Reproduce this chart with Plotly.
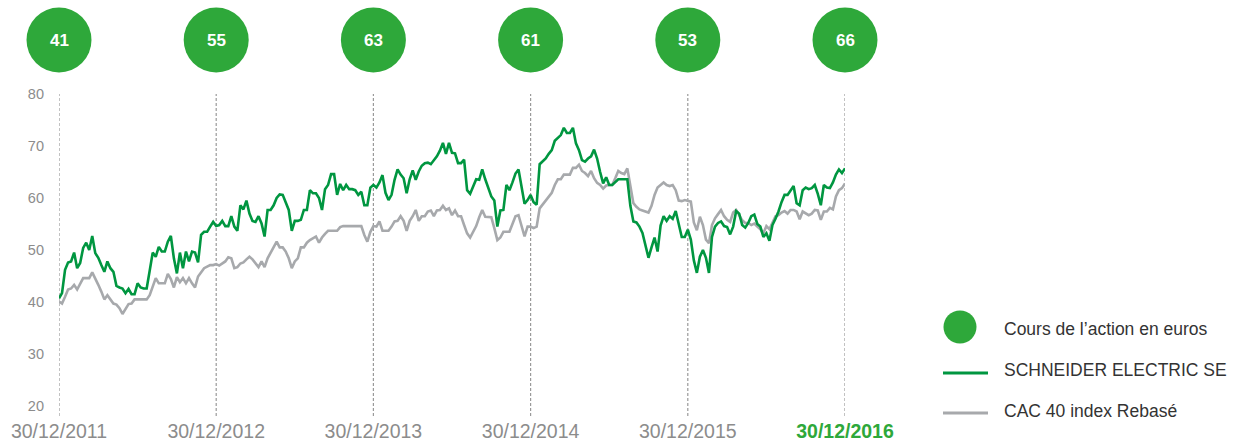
import plotly.graph_objects as go

# ---------------- data ----------------
annees = ["30/12/2011", "30/12/2012", "30/12/2013", "30/12/2014", "30/12/2015", "30/12/2016"]
cours_fin_annee = [41, 55, 63, 61, 53, 66]

# Weekly values, one list per year (first list includes the starting point)
schneider_2012 = [40.7, 41.7, 46.2, 47.6, 47.8, 49.5, 46.5, 47.5, 50.4, 51.4, 50.0, 52.7, 49.4, 48.5, 47.1, 45.8, 47.8, 46.5, 45.8, 43.1,
                  42.8, 42.6, 41.7, 42.5, 41.5, 41.5, 43.6, 42.8, 42.6, 42.6, 46.0, 49.5, 48.7, 50.6, 49.7, 49.7, 51.6, 52.7, 48.4, 45.5,
                  49.5, 46.5, 49.7, 47.8, 49.7, 49.5, 47.6, 52.9, 53.5, 53.5, 54.5, 55.4, 54.6]
schneider_2013 = [54.8, 55.6, 54.6, 54.6, 56.5, 54.5, 53.7, 58.6, 57.8, 59.5, 57.0, 55.6, 55.4, 56.5, 55.1, 52.6, 57.7, 57.7, 58.6, 60.0,
                  60.7, 60.6, 59.3, 57.7, 53.7, 55.6, 55.6, 55.8, 57.7, 57.7, 61.5, 60.9, 60.9, 60.0, 57.7, 61.7, 62.5, 64.6, 64.6, 60.6,
                  62.7, 61.5, 62.5, 61.7, 61.7, 61.5, 60.6, 61.2, 58.6, 58.6, 62.0, 62.5]
schneider_2014 = [62.0, 63.0, 64.4, 61.0, 59.6, 60.6, 63.5, 65.5, 64.5, 63.8, 60.9, 63.6, 65.3, 63.5, 65.1, 66.2, 66.7, 66.8, 66.5, 67.3,
                  68.0, 69.1, 70.6, 68.5, 70.6, 68.7, 68.6, 66.7, 66.7, 67.4, 61.5, 60.8, 62.2, 63.6, 63.5, 65.5, 63.6, 61.9, 60.3, 59.5,
                  54.5, 57.6, 57.7, 62.5, 61.5, 63.0, 64.7, 65.5, 62.0, 58.9, 59.6, 60.6]
schneider_2015 = [59.2, 58.7, 66.5, 67.0, 67.6, 68.5, 69.2, 71.0, 71.5, 72.1, 73.5, 72.5, 72.5, 73.5, 70.5, 69.2, 67.3, 67.0, 67.6, 68.0,
                  69.3, 67.6, 65.0, 62.8, 64.0, 62.5, 62.5, 63.1, 63.6, 63.6, 63.6, 63.6, 58.5, 55.5, 55.3, 54.5, 53.3, 51.0, 48.5, 50.5,
                  52.4, 49.7, 54.7, 56.5, 55.6, 56.5, 56.0, 57.5, 55.0, 52.5, 52.5, 53.9]
schneider_2016 = [52.0, 48.0, 45.6, 48.7, 50.0, 48.5, 45.6, 52.5, 54.5, 55.2, 55.5, 54.6, 54.4, 53.0, 54.5, 57.5, 57.0, 54.8, 54.3, 55.2,
                  56.5, 56.8, 55.0, 54.5, 52.5, 53.2, 51.8, 54.8, 56.0, 57.4, 59.2, 60.6, 60.6, 61.4, 62.3, 59.0, 58.6, 61.5, 62.0, 61.7,
                  61.9, 62.5, 60.8, 58.6, 62.5, 62.0, 61.9, 63.0, 64.5, 65.5, 64.8, 65.7]

cac40_2012 = [40.1, 39.7, 41.0, 42.4, 42.6, 43.3, 42.4, 43.6, 44.6, 44.6, 44.6, 45.7, 44.6, 43.3, 42.0, 40.5, 41.3, 40.4, 39.7, 39.5,
              38.8, 37.7, 38.8, 39.6, 39.7, 40.5, 40.5, 40.5, 40.5, 40.5, 41.3, 42.8, 44.6, 43.6, 43.6, 43.6, 45.4, 44.4, 42.8, 44.8,
              43.8, 44.6, 43.6, 44.6, 43.6, 42.8, 44.9, 45.8, 46.5, 46.8, 47.1, 47.1, 47.3]
cac40_2013 = [47.0, 47.4, 47.8, 48.6, 48.4, 46.5, 46.7, 47.4, 47.6, 48.2, 48.7, 48.2, 47.4, 46.7, 47.8, 46.7, 48.4, 49.5, 50.6, 51.6,
              50.5, 50.5, 49.7, 48.4, 46.5, 47.8, 48.4, 50.5, 50.5, 51.4, 51.9, 52.3, 52.6, 51.4, 52.4, 53.1, 53.7, 53.7, 53.7, 53.7,
              54.4, 54.6, 54.6, 54.6, 54.6, 54.6, 54.6, 54.6, 52.9, 51.6, 53.5, 54.6]
cac40_2014 = [54.5, 55.5, 53.7, 53.7, 53.7, 54.5, 55.5, 55.6, 56.5, 55.6, 53.7, 55.6, 56.5, 57.7, 55.6, 56.5, 56.5, 57.4, 57.6, 56.5,
              57.6, 57.7, 58.5, 57.7, 58.0, 56.7, 57.6, 56.5, 56.5, 54.8, 53.2, 52.4, 53.5, 54.6, 56.3, 57.7, 56.4, 56.4, 56.3, 54.2,
              51.9, 52.4, 53.5, 53.5, 53.5, 55.0, 56.5, 56.7, 54.5, 52.6, 54.5, 54.5]
cac40_2015 = [54.2, 54.5, 58.0, 58.8, 59.4, 60.3, 61.0, 62.5, 63.6, 63.6, 64.5, 64.5, 64.5, 65.8, 65.8, 66.4, 65.2, 64.8, 64.2, 65.2,
              63.8, 62.9, 62.5, 61.8, 62.4, 62.5, 62.5, 63.8, 65.2, 64.8, 64.6, 65.7, 62.0, 59.0, 58.3, 57.8, 57.6, 57.4, 57.2, 58.5,
              60.6, 62.0, 62.5, 63.0, 62.5, 62.3, 62.5, 61.5, 59.5, 59.4, 59.6, 59.5]
cac40_2016 = [59.3, 55.3, 53.8, 56.4, 54.8, 52.0, 51.3, 54.8, 56.1, 56.9, 57.7, 56.5, 55.8, 55.4, 57.2, 57.7, 56.8, 55.7, 55.2, 55.2,
              54.8, 55.1, 54.5, 54.0, 53.2, 54.6, 54.0, 55.2, 56.5, 56.7, 57.2, 57.5, 57.0, 57.7, 57.7, 57.4, 55.9, 57.4, 57.0, 56.7,
              57.0, 57.7, 57.6, 55.8, 57.4, 57.4, 58.1, 57.8, 60.3, 61.5, 61.9, 62.8]

y_ticks = [20, 30, 40, 50, 60, 70, 80]

legend_labels = ["Cours de l’action en euros", "SCHNEIDER ELECTRIC SE", "CAC 40 index Rebasé"]


def build_series(segments):
    xs, ys = [], []
    for k, seg in enumerate(segments):
        if k == 0:
            n = len(seg) - 1
            xs += [j / n for j in range(len(seg))]
        else:
            n = len(seg)
            xs += [k + (j + 1) / n for j in range(len(seg))]
        ys += seg
    return xs, ys


sx, sy = build_series([schneider_2012, schneider_2013, schneider_2014, schneider_2015, schneider_2016])
cx, cy = build_series([cac40_2012, cac40_2013, cac40_2014, cac40_2015, cac40_2016])

# ---------------- style ----------------
GREEN_LINE = "#009640"
GREEN_DOT = "#2EA83A"
GREY_LINE = "#A7A9AC"
TICK_GREY = "#8C8C8C"
TEXT_DARK = "#333333"
FONT = "Liberation Sans, Arial, sans-serif"

W, H = 1235, 446
L, R, T, B = 59, 390, 94, 40
PW, PH = W - L - R, H - T - B


def px(X):
    """screen pixel x -> paper x"""
    return (X - L) / PW


def py(Y):
    """screen pixel y -> paper y"""
    return (H - B - Y) / PH


year_pos = list(range(len(annees)))
n_years = len(annees) - 1

fig = go.Figure()

fig.add_trace(go.Scatter(x=cx, y=cy, mode="lines", line=dict(color=GREY_LINE, width=2.6),
                         showlegend=False, hoverinfo="skip"))
fig.add_trace(go.Scatter(x=sx, y=sy, mode="lines", line=dict(color=GREEN_LINE, width=2.6),
                         showlegend=False, hoverinfo="skip"))

shapes = []
annotations = []

# dashed year lines
for xp in year_pos:
    shapes.append(dict(type="line", xref="x", yref="paper", x0=xp, x1=xp, y0=py(416), y1=1,
                       line=dict(color="#9A9A9A", width=1.2, dash="3px,2px"), layer="below"))

# Year-end share price bubbles (placed above each year line)
for xp, val in zip(year_pos, cours_fin_annee):
    xpaper = xp / n_years
    shapes.append(dict(type="circle", xref="paper", yref="paper", xsizemode="pixel", ysizemode="pixel",
                       xanchor=xpaper, yanchor=py(40), x0=-32.5, x1=32.5, y0=-32.5, y1=32.5,
                       fillcolor=GREEN_DOT, line=dict(width=0)))
    annotations.append(dict(text=f"<b>{val}</b>", xref="paper", yref="paper", x=xpaper, y=py(41),
                            xanchor="center", yanchor="middle", showarrow=False,
                            font=dict(family=FONT, size=17, color="white")))

# custom legend
shapes.append(dict(type="circle", xref="paper", yref="paper", xsizemode="pixel", ysizemode="pixel",
                   xanchor=px(960), yanchor=py(327), x0=-16.5, x1=16.5, y0=-16.5, y1=16.5,
                   fillcolor=GREEN_DOT, line=dict(width=0)))
shapes.append(dict(type="line", xref="paper", yref="paper", x0=px(943), x1=px(988), y0=py(373), y1=py(373),
                   line=dict(color=GREEN_LINE, width=3)))
shapes.append(dict(type="line", xref="paper", yref="paper", x0=px(943), x1=px(988), y0=py(413), y1=py(413),
                   line=dict(color=GREY_LINE, width=3)))

for label, yp in zip(legend_labels, [329, 370, 411]):
    annotations.append(dict(text=label, xref="paper", yref="paper", x=px(1002), y=py(yp),
                            xanchor="left", yanchor="middle", showarrow=False,
                            font=dict(family=FONT, size=17.5, color=TEXT_DARK)))

ticktext = annees[:-1] + [f"<b><span style='color:{GREEN_DOT}'>{annees[-1]}</span></b>"]

fig.update_layout(
    width=W, height=H, autosize=False,
    margin=dict(l=L, r=R, t=T, b=B, pad=0, autoexpand=False),
    paper_bgcolor="white", plot_bgcolor="white",
    font=dict(family=FONT),
    shapes=shapes, annotations=annotations,
    xaxis=dict(range=[0, n_years], tickvals=year_pos, ticktext=ticktext, automargin=False,
               showgrid=False, zeroline=False, showline=False, ticks="",
               tickfont=dict(size=19.5, color=TICK_GREY), ticklabelstandoff=11, fixedrange=True),
    yaxis=dict(range=[20, 80], tickvals=y_ticks, showgrid=False, zeroline=False, showline=False, automargin=False,
               ticks="", tickfont=dict(size=14.5, color=TICK_GREY), ticklabelstandoff=14, fixedrange=True),
)

fig.write_html(
    "out.html",
    config={"displayModeBar": False},
    post_script="document.body.style.margin='0';document.body.style.overflow='hidden';",
)
